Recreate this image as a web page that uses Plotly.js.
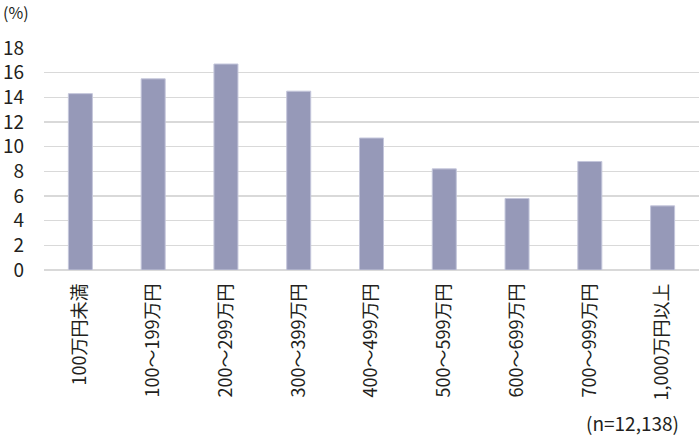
<!DOCTYPE html>
<html>
<head>
<meta charset="utf-8">
<script src="https://cdn.plot.ly/plotly-3.0.1.min.js"></script>
<style>html,body{margin:0;padding:0;background:#fff;}#chart{width:700px;height:436px;}</style>
</head>
<body>
<div id="chart"></div>
<script>
const categories = ["100万円未満","100～199万円","200～299万円","300～399万円","400～499万円","500～599万円","600～699万円","700～999万円","1,000万円以上"];
const values = [14.3, 15.5, 16.7, 14.5, 10.7, 8.2, 5.8, 8.8, 5.2];
const yTicks = [0, 2, 4, 6, 8, 10, 12, 14, 16, 18];
const unitLabel = "(%)";
const sampleNote = "(n=12,138)";

const font = "Noto Sans CJK JP, Noto Sans, sans-serif";

Plotly.newPlot("chart", [{
  type: "bar",
  x: categories,
  y: values,
  marker: {color: "#9699b8", line: {color: "#c4c6db", width: 1}},
  hoverinfo: "skip"
}], {
  width: 700, height: 436,
  margin: {l: 44, r: 1, t: 48, b: 166},
  paper_bgcolor: "#fff", plot_bgcolor: "#fff",
  bargap: 0.67,
  showlegend: false,
  font: {family: font, color: "#231f20"},
  xaxis: {
    type: "category",
    tickangle: -90,
    tickfont: {size: 18, family: font, color: "#231f20"},
    showgrid: false, zeroline: false, showline: false,
    ticks: "", ticklabelstandoff: 9
  },
  yaxis: {
    range: [0, 18],
    tickvals: yTicks,
    ticktext: yTicks.map(String),
    tickfont: {size: 19, family: font, color: "#231f20"},
    showgrid: true, gridcolor: "#d9d9d9", gridwidth: 1.5,
    zeroline: true, zerolinecolor: "#d9d9d9", zerolinewidth: 1.5,
    showline: false, ticks: "", ticklabelstandoff: 19
  },
  annotations: [
    {text: unitLabel, xref: "paper", yref: "paper", x: -0.066, y: 1.164, xanchor: "left", yanchor: "middle", showarrow: false, font: {size: 16, family: font, color: "#231f20"}},
    {text: sampleNote, xref: "paper", yref: "paper", x: 0.9725, y: -0.685, xanchor: "right", yanchor: "middle", showarrow: false, font: {size: 19, family: font, color: "#231f20"}}
  ]
}, {displayModeBar: false, staticPlot: true});
</script>
</body>
</html>
